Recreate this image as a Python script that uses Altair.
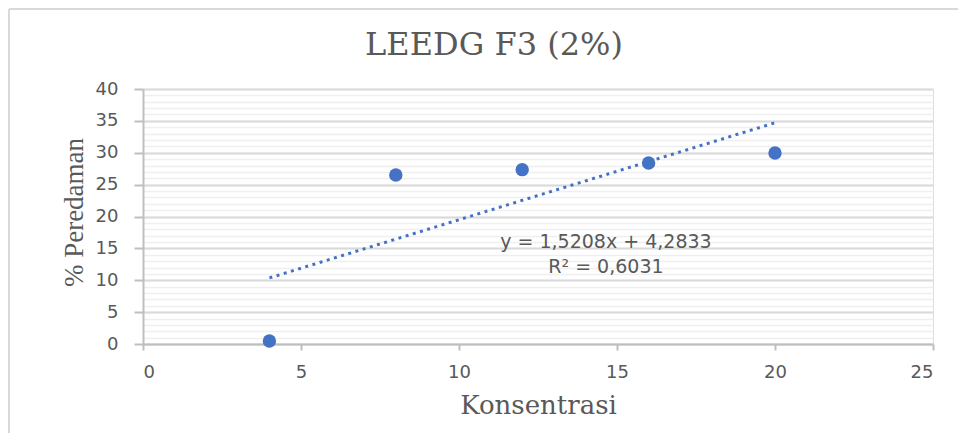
import altair as alt
import pandas as pd

# Data
konsentrasi = [4, 8, 12, 16, 20]
peredaman = [0.47, 26.5, 27.35, 28.4, 29.95]

# Trendline (linear fit as reported on the chart)
slope = [1.5208]
intercept = [4.2833]
trend_x = [4, 20]
r2 = [0.6031]

eq_text = ["y = 1,5208x + 4,2833\nR² = 0,6031"]
eq_x = [14.65]
eq_y = [15.05]

chart_title = ["LEEDG F3 (2%)"]

x_ticks = [0, 5, 10, 15, 20, 25]
y_major = [0, 5, 10, 15, 20, 25, 30, 35, 40]
y_minor = list(range(0, 41))

BLUE = "#4472c4"
TXT = "#595959"

pts = pd.DataFrame({"x": konsentrasi, "y": peredaman})
trend = pd.DataFrame({"x": trend_x, "y": [slope[0] * v + intercept[0] for v in trend_x]})
eq = pd.DataFrame({"x": eq_x, "y": eq_y, "t": eq_text})
ttl = pd.DataFrame({"t": chart_title})

xscale = alt.Scale(domain=[0, 25], nice=False, zero=True)
yscale = alt.Scale(domain=[0, 40], nice=False, zero=True)

x_axis = alt.Axis(
    values=x_ticks, grid=False, domainColor="#bfbfbf", domainWidth=2,
    tickColor="#bfbfbf", tickWidth=2, tickSize=6,
    labelFont="DejaVu Sans", labelFontSize=18, labelColor=TXT,
    labelBaseline="alphabetic", labelPadding=27,
    title="Konsentrasi", titleFont="DejaVu Serif", titleFontSize=26,
    titleFontWeight="normal", titleColor=TXT, titleBaseline="alphabetic",
    titleY=69, titleX=395,
)

y_minor_axis = alt.Axis(
    orient="left", values=y_minor, grid=True, gridColor="#efefef", gridWidth=1.5,
    labels=False, ticks=False, domain=False, title=None,
)

y_major_axis = alt.Axis(
    orient="left", values=y_major, grid=True, gridColor="#d9d9d9", gridWidth=2,
    domainColor="#bfbfbf", domainWidth=2, tickColor="#bfbfbf", tickWidth=2,
    tickSize=9, labelFont="DejaVu Sans", labelFontSize=18, labelColor=TXT,
    labelPadding=16,
    title="% Peredaman", titleFont="Liberation Serif", titleFontSize=27,
    titleFontWeight="normal", titleColor=TXT, titleBaseline="alphabetic",
    titleX=-61, titleY=123, titleAngle=270,
)

frame_src = pd.DataFrame({"a": [0]})
border_top = alt.Chart(frame_src).mark_rule(color="#d9d9d9", strokeWidth=2).encode(
    x=alt.value(-134), x2=alt.value(1000), y=alt.value(-80)
)
border_left = alt.Chart(frame_src).mark_rule(color="#d9d9d9", strokeWidth=2).encode(
    x=alt.value(-134), y=alt.value(-80), y2=alt.value(500)
)

title_layer = alt.Chart(ttl).mark_text(
    font="DejaVu Serif", fontSize=32, color=TXT, align="center",
    baseline="alphabetic",
).encode(
    x=alt.value(351), y=alt.value(-34), text="t:N"
)

trend_layer = alt.Chart(trend).mark_line(
    color=BLUE, strokeWidth=3, strokeDash=[3, 4.5]
).encode(
    x=alt.X("x:Q", scale=xscale, axis=x_axis),
    y=alt.Y("y:Q", scale=yscale, axis=y_minor_axis),
)

point_layer = alt.Chart(pts).mark_circle(
    color=BLUE, opacity=1, size=180
).encode(
    x=alt.X("x:Q", scale=xscale, axis=x_axis),
    y=alt.Y("y:Q", scale=yscale, axis=y_major_axis),
)

eq_layer = alt.Chart(eq).mark_text(
    font="DejaVu Sans", fontSize=19, color=TXT, align="center",
    baseline="alphabetic", lineBreak="\n", lineHeight=25,
).encode(
    x=alt.X("x:Q", scale=xscale, axis=x_axis),
    y=alt.Y("y:Q", scale=yscale, axis=None),
    text="t:N",
)

chart = alt.layer(
    border_top, border_left, title_layer, trend_layer, point_layer, eq_layer
).resolve_axis(
    y="independent"
).properties(
    width=790,
    height=255,
    autosize=alt.AutoSizeParams(type="none"),
    padding={"left": 135, "top": 81, "right": 25, "bottom": 89},
).configure_view(stroke=None).configure(background="white")

chart.save("out.html", embed_options={"renderer": "svg", "actions": False})
